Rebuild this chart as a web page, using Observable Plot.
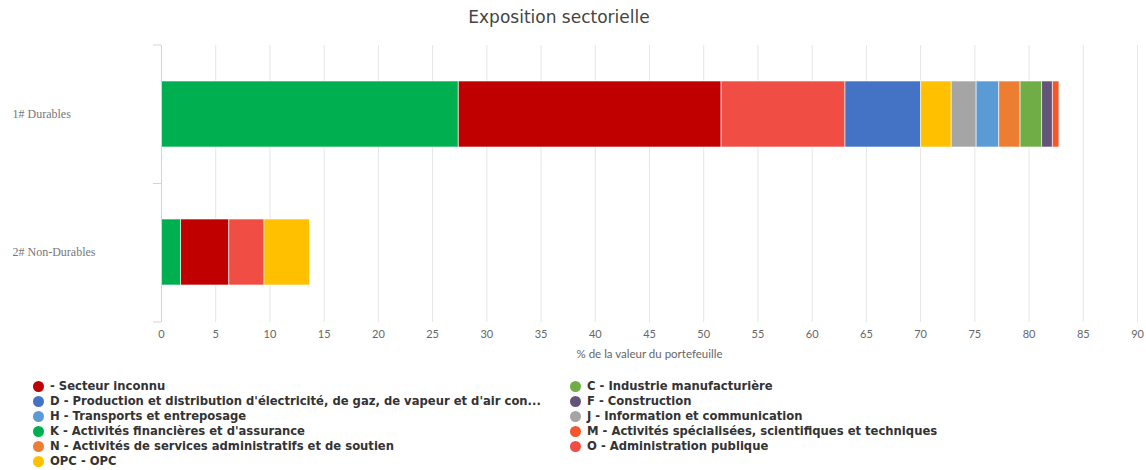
<!DOCTYPE html>
<html>
<head>
<meta charset="utf-8">
<script src="https://cdn.jsdelivr.net/npm/d3@7"></script>
<script src="https://cdn.jsdelivr.net/npm/@observablehq/plot@0.6"></script>
<style>
  html, body { margin: 0; padding: 0; background: #fff; }
  #root { position: relative; width: 1146px; height: 470px; overflow: hidden; }
  #title { position: absolute; top: 6px; left: -14px; width: 1146px; text-align: center;
           font-family: "DejaVu Sans", sans-serif; font-size: 17px; line-height: 22px; color: #444; }
  #chart { position: absolute; top: 38px; left: 0; }
  #legend { position: absolute; top: 379px; left: 0; width: 1146px;
            font-family: "DejaVu Sans", sans-serif; font-weight: bold; font-size: 11.6px; color: #333; }
  .item { position: absolute; height: 15px; line-height: 15px; white-space: nowrap; }
  .dot { position: absolute; top: 2px; left: 0; width: 11px; height: 11px; border-radius: 50%; }
  .lbl { position: absolute; left: 17px; top: 0; }
</style>
</head>
<body>
<div id="root">
  <div id="title"></div>
  <div id="chart"></div>
  <div id="legend"></div>
</div>
<script>
const title = "Exposition sectorielle";
const xLabel = "% de la valeur du portefeuille";
const categories = ["1# Durables", "2# Non-Durables"];
const sectors = [
  "- Secteur inconnu",
  "C - Industrie manufacturière",
  "D - Production et distribution d'électricité, de gaz, de vapeur et d'air con...",
  "F - Construction",
  "H - Transports et entreposage",
  "J - Information et communication",
  "K - Activités financières et d'assurance",
  "M - Activités spécialisées, scientifiques et techniques",
  "N - Activités de services administratifs et de soutien",
  "O - Administration publique",
  "OPC - OPC"
];
const sectorColors = ["#C00000", "#70AD47", "#4472C4", "#635579", "#5B9BD5", "#A5A5A5",
                      "#00B050", "#F4582A", "#ED7D31", "#F04E45", "#FFC000"];
// values in the same order as sectors
const durablesValues    = [24.25, 2.0, 7.0, 1.0, 2.1, 2.3, 27.4, 0.6, 1.95, 11.4, 2.8];
const nonDurablesValues = [4.45, 0, 0, 0, 0, 0, 1.8, 0, 0, 3.25, 4.2];
// stacking order (left to right)
const stackOrder = [6, 0, 9, 2, 10, 5, 4, 8, 1, 3, 7].map(i => sectors[i]);
const xTicks = d3.range(0, 91, 5);

const rows = [];
sectors.forEach((s, i) => {
  if (durablesValues[i] > 0) rows.push({category: categories[0], sector: s, value: durablesValues[i]});
  if (nonDurablesValues[i] > 0) rows.push({category: categories[1], sector: s, value: nonDurablesValues[i]});
});

document.getElementById("title").textContent = title;

const chart = Plot.plot({
  width: 1146,
  height: 332,
  marginLeft: 161,
  marginRight: 9,
  marginTop: 7,
  marginBottom: 48,
  style: {background: "transparent"},
  x: {domain: [0, 90], ticks: xTicks},
  y: {domain: categories, paddingInner: 0.52, paddingOuter: 0.26, axis: null},
  color: {domain: sectors, range: sectorColors},
  marks: [
    Plot.gridX(xTicks, {stroke: "#e6e6e6", strokeOpacity: 1}),
    Plot.barX(rows, {x: "value", y: "category", fill: "sector", order: stackOrder,
                     stroke: "#ffffff", strokeOpacity: 0.6, strokeWidth: 1}),
    Plot.ruleX([0], {stroke: "#d4d4d4"}),
    Plot.axisX(xTicks, {tickSize: 0, tickPadding: 8, fontSize: 11, fill: "#666",
                        fontFamily: "Lato, sans-serif", label: null}),
    Plot.text([xLabel], {text: d => d, frameAnchor: "bottom", dy: 35, fontSize: 11.5,
                         fill: "#666", fontFamily: "Lato, sans-serif"}),
    Plot.text(categories, {y: d => d, text: d => d, frameAnchor: "left", textAnchor: "start",
                           dx: -149, fontSize: 12, fill: "#777",
                           fontFamily: "'Liberation Serif', serif"})
  ]
});
document.getElementById("chart").appendChild(chart);

// category boundary ticks on the y axis, from the plot's own y scale
const ys = chart.scale("y");
const xs = chart.scale("x");
const x0 = xs.apply(0);
const r0 = Math.min(...ys.range), r1 = Math.max(...ys.range);
const nb = ys.domain.length;
const bounds = d3.range(nb + 1).map(i => r0 + (r1 - r0) * i / nb);
d3.select(chart).append("g")
  .selectAll("line").data(bounds).join("line")
  .attr("x1", x0 - 8).attr("x2", x0)
  .attr("y1", d => d).attr("y2", d => d)
  .attr("stroke", "#d4d4d4");

// legend
const legend = document.getElementById("legend");
const colX = [33, 570];
sectors.forEach((s, i) => {
  const item = document.createElement("div");
  item.className = "item";
  item.style.left = colX[i % 2] + "px";
  item.style.top = (Math.floor(i / 2) * 15) + "px";
  const dot = document.createElement("span");
  dot.className = "dot";
  dot.style.background = sectorColors[i];
  const lbl = document.createElement("span");
  lbl.className = "lbl";
  lbl.textContent = s;
  item.appendChild(dot);
  item.appendChild(lbl);
  legend.appendChild(item);
});
</script>
</body>
</html>
